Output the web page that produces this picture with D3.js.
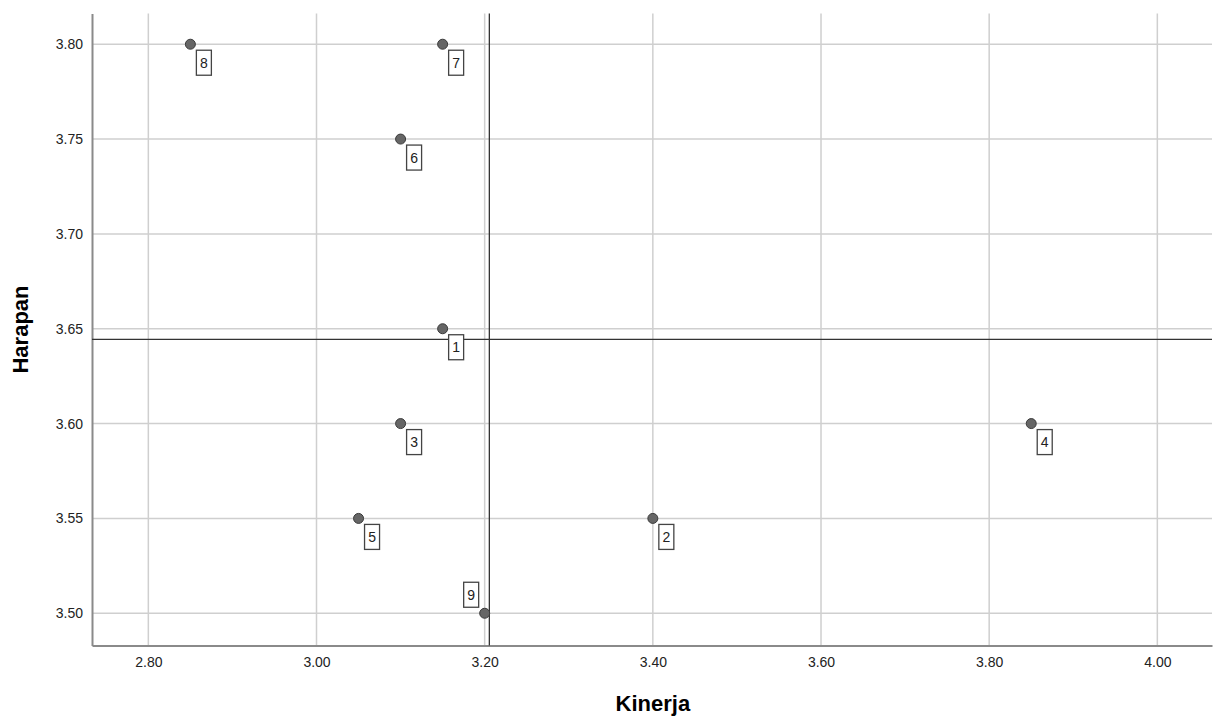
<!DOCTYPE html>
<html>
<head>
<meta charset="utf-8">
<script src="https://cdn.jsdelivr.net/npm/d3@7"></script>
<style>
  body { margin: 0; background: #fff; }
  text { font-family: "Liberation Sans", Arial, sans-serif; }
</style>
</head>
<body>
<div id="chart"></div>
<script>
// case ids and their scores
var caseIds  = [1, 2, 3, 4, 5, 6, 7, 8, 9]
var kinerja  = [3.15, 3.40, 3.10, 3.85, 3.05, 3.10, 3.15, 2.85, 3.20]
var harapan  = [3.65, 3.55, 3.60, 3.60, 3.55, 3.75, 3.80, 3.80, 3.50]

var xTicks = [2.80, 3.00, 3.20, 3.40, 3.60, 3.80, 4.00]
var yTicks = [3.50, 3.55, 3.60, 3.65, 3.70, 3.75, 3.80]

var W = 1219, H = 716
var margin = {left: 92, top: 13.5, right: 7, bottom: 70.5}
var width = W - margin.left - margin.right
var height = H - margin.top - margin.bottom

var points = caseIds.map((id, i) => ({id, x: kinerja[i], y: harapan[i]}))
var meanX = d3.mean(kinerja)
var meanY = d3.mean(harapan)

var x = d3.scaleLinear().domain([2.733, 4.065]).range([0, width])
var y = d3.scaleLinear().domain([3.483, 3.8162]).range([height, 0])

var svg = d3.select('#chart').append('svg')
  .attr('width', W).attr('height', H)

var g = svg.append('g').attr('transform', `translate(${margin.left},${margin.top})`)

// grid
g.append('g').selectAll('line').data(xTicks).join('line')
  .attr('x1', d => x(d)).attr('x2', d => x(d))
  .attr('y1', 0).attr('y2', height)
  .attr('stroke', '#cfcfcf').attr('stroke-width', 1.5)

g.append('g').selectAll('line').data(yTicks).join('line')
  .attr('x1', 0).attr('x2', width)
  .attr('y1', d => y(d)).attr('y2', d => y(d))
  .attr('stroke', '#cfcfcf').attr('stroke-width', 1.5)

// axes, no tick marks
var xAxis = g.append('g').attr('transform', `translate(0,${height})`)
  .call(d3.axisBottom(x).tickValues(xTicks).tickFormat(d3.format('.2f')).tickSize(0).tickPadding(12))
var yAxis = g.append('g')
  .call(d3.axisLeft(y).tickValues(yTicks).tickFormat(d3.format('.2f')).tickSize(0).tickPadding(9))

;[xAxis, yAxis].forEach(a => {
  a.select('.domain').attr('stroke', '#8a8a8a').attr('stroke-width', 2)
  a.selectAll('text').attr('font-size', 14).attr('fill', '#222')
    .style('font-family', '"Liberation Sans", Arial, sans-serif')
})

// mean reference lines
g.append('line')
  .attr('x1', x(meanX)).attr('x2', x(meanX))
  .attr('y1', 0).attr('y2', height)
  .attr('stroke', '#333').attr('stroke-width', 1.3)
g.append('line')
  .attr('x1', 0).attr('x2', width)
  .attr('y1', y(meanY)).attr('y2', y(meanY))
  .attr('stroke', '#333').attr('stroke-width', 1.3)

// points
g.append('g').selectAll('circle').data(points).join('circle')
  .attr('cx', d => x(d.x)).attr('cy', d => y(d.y))
  .attr('r', 5)
  .attr('fill', '#666').attr('stroke', '#3a3a3a').attr('stroke-width', 1)

// case labels, case 9 sits above-left
var bw = 15, bh = 25
var lab = g.append('g').selectAll('g').data(points).join('g')
  .attr('transform', d => {
    var px = x(d.x), py = y(d.y)
    return d.id == 9
      ? `translate(${px - 6 - bw},${py - 6 - bh})`
      : `translate(${px + 6},${py + 6})`
  })

lab.append('rect')
  .attr('width', bw).attr('height', bh)
  .attr('fill', '#fff').attr('stroke', '#444').attr('stroke-width', 1.3)

lab.append('text').text(d => d.id)
  .attr('x', bw / 2).attr('y', bh / 2).attr('dy', '.36em')
  .attr('text-anchor', 'middle').attr('font-size', 14).attr('fill', '#222')

// axis titles
svg.append('text').text('Kinerja')
  .attr('x', margin.left + x(3.40)).attr('y', 711)
  .attr('text-anchor', 'middle').attr('font-size', 22).attr('font-weight', 'bold')

svg.append('text').text('Harapan')
  .attr('transform', `translate(28,${margin.top + height / 2}) rotate(-90)`)
  .attr('text-anchor', 'middle').attr('font-size', 22).attr('font-weight', 'bold')
</script>
</body>
</html>
